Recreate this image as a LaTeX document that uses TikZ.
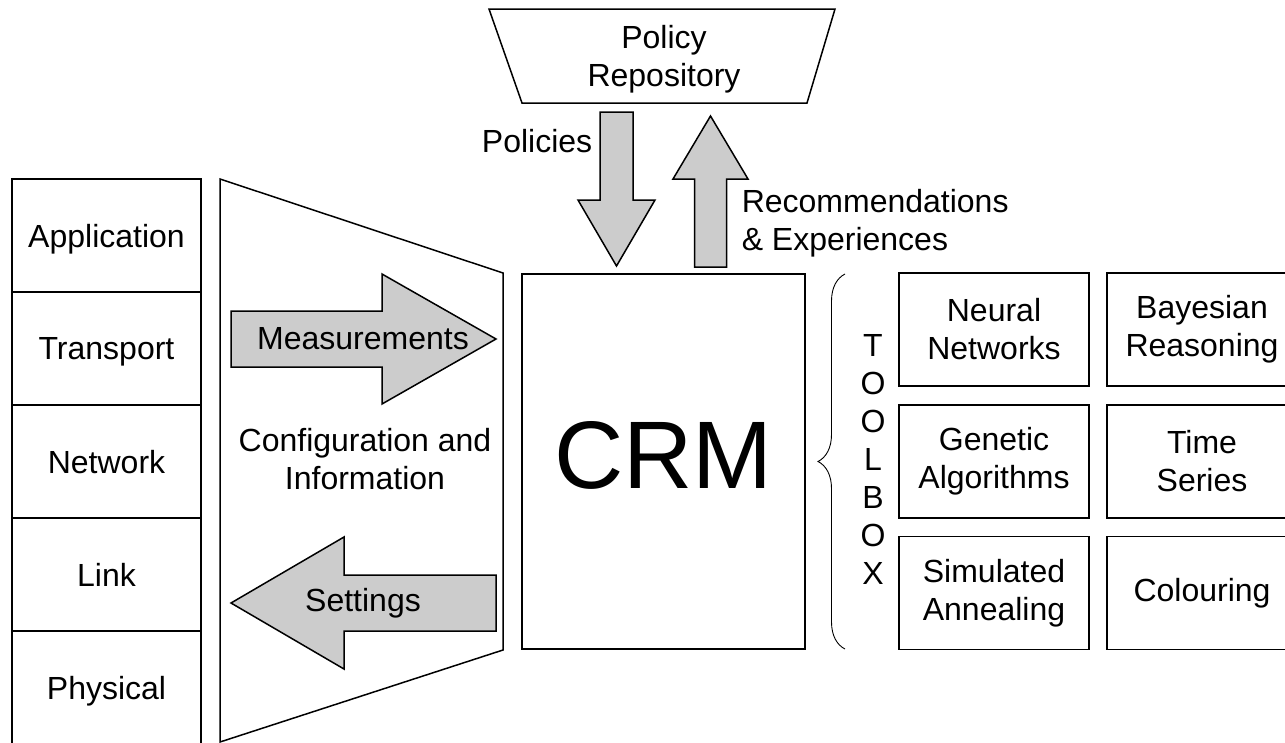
\documentclass[tikz,border=0pt]{standalone}
\usepackage{fontspec}
\setmainfont{Liberation Sans}
\usetikzlibrary{decorations.pathreplacing}

\begin{document}
\begin{tikzpicture}[x=1pt, y=-1pt, line width=1.5pt, line join=miter,
  labelfont/.style={font=\fontsize{32}{38}\selectfont},
  layerbox/.style={draw, rectangle, minimum width=189pt, minimum height=113pt,
    inner sep=0pt, align=center, text depth=0pt, labelfont},
  toolbox/.style={draw, rectangle, minimum width=190pt, minimum height=113pt,
    inner sep=0pt, align=center, labelfont},
  txt/.style={inner sep=0pt, align=center, labelfont},
  fatarrow/.style={draw, fill=black!20},
]
\useasboundingbox (0,0) rectangle (1285,742);
\clip (0,0) rectangle (1285,742);

% protocol layer stack
\node[layerbox] (app)  at (106.5,235.5) {Application};
\node[layerbox] (trn)  at (106.5,348.5) {Transport};
\node[layerbox] (net)  at (106.5,461.5) {Network};
\node[layerbox] (lnk)  at (106.5,574.5) {Link};
\node[layerbox] (phy)  at (106.5,687.5) {Physical};

% configuration and information funnel
\draw (220,179) -- (503,273) -- (503,650) -- (220,742) -- cycle;
\node[txt] (cfg) at (365,459) {Configuration and\\Information};

% measurements arrow (to the right)
\draw[fatarrow] (231,311) -- (382,311) -- (382,274) -- (496,339)
  -- (382,404) -- (382,367) -- (231,367) -- cycle;
\node[txt] (meas) at (363,339) {Measurements};

% settings arrow (to the left)
\draw[fatarrow] (496,575) -- (344,575) -- (344,537) -- (231,603)
  -- (344,669) -- (344,631) -- (496,631) -- cycle;
\node[txt] (set) at (363,603) {Settings};

% policy repository
\draw (489,9) -- (835,9) -- (807,103) -- (522,103) -- cycle;
\node[txt] (repo) at (664,59) {Policy\\Repository};

% policies arrow (down)
\draw[fatarrow] (600,112) -- (633,112) -- (633,200) -- (655,200)
  -- (616.5,266) -- (578,200) -- (600,200) -- cycle;
\node[txt, anchor=east] (pol) at (593,141) {Policies};

% recommendations arrow (up)
\draw[fatarrow] (694.5,267) -- (694.5,179) -- (673,179) -- (710.5,116)
  -- (748,179) -- (726.5,179) -- (726.5,267) -- cycle;
\node[txt, anchor=west, align=left] (rec) at (741,223) {Recommendations\\\& Experiences};

% cognitive resource manager
\node[draw, rectangle, minimum width=283pt, minimum height=375pt, inner sep=0pt]
  (crm) at (663.5,461.5) {};
\node[inner sep=0pt, font=\fontsize{96}{110}\selectfont] (crmtxt) at (663.5,455) {CRM};

% toolbox brace and label
\draw[line width=0.9pt, decorate, decoration={brace, amplitude=27pt}]
  (845,649) -- (845,274);
\node[txt] (tb) at (873,459) {T\\O\\O\\L\\B\\O\\X};

% toolbox contents
\node[toolbox] (nn) at (994,329.5) {Neural\\Networks};
\node[toolbox] (br) at (1202,329.5) {Bayesian\\Reasoning};
\node[toolbox] (ga) at (994,461.5) {Genetic\\Algorithms};
\node[toolbox] (ts) at (1202,461.5) {Time\\Series};
\node[toolbox] (sa) at (994,593) {Simulated\\Annealing};
\node[toolbox] (co) at (1202,593) {Colouring};
\end{tikzpicture}
\end{document}
